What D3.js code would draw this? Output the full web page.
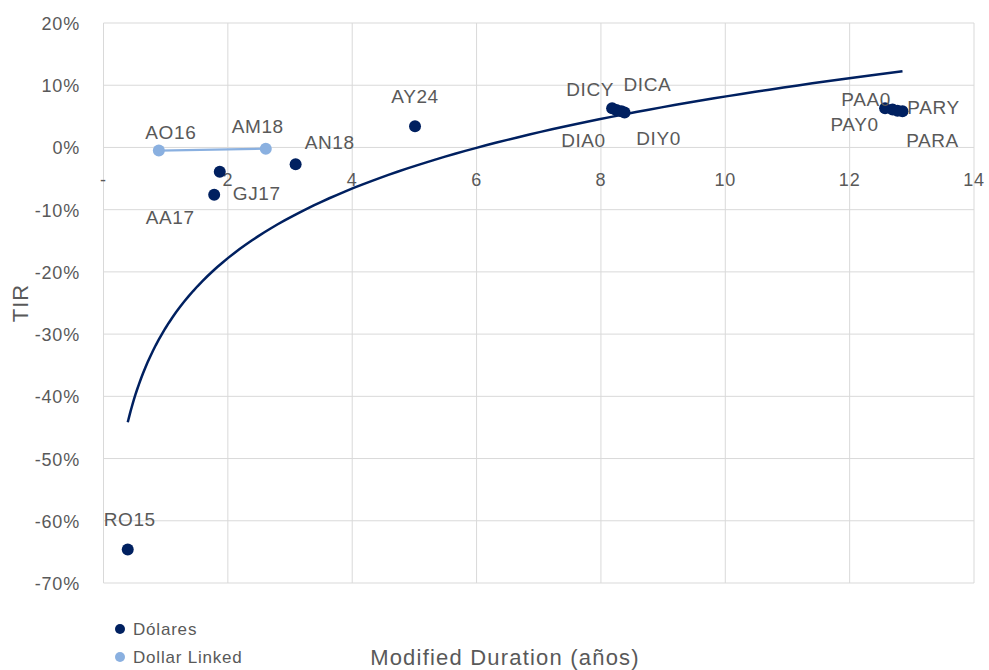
<!DOCTYPE html>
<html>
<head>
<meta charset="utf-8">
<script src="https://cdn.jsdelivr.net/npm/d3@7"></script>
<style>
  body { margin: 0; background: #fff; }
  text { font-family: "Liberation Sans", Arial, sans-serif; fill: #595959; }
</style>
</head>
<body>
<div id="chart"></div>
<script>
(function () {
    // Dólares bonds
    var usdNames = ['RO15', 'AA17', 'GJ17', 'AN18', 'AY24', 'DICY', 'DIA0', 'DICA', 'DIY0', 'PAA0', 'PAY0', 'PARY', 'PARA'];
    var usdDuration = [0.39, 1.78, 1.87, 3.09, 5.01, 8.18, 8.25, 8.33, 8.38, 12.57, 12.69, 12.77, 12.85];
    var usdTir = [-0.646, -0.076, -0.039, -0.027, 0.034, 0.063, 0.060, 0.058, 0.056, 0.063, 0.061, 0.059, 0.058];

    // Dollar Linked bonds
    var dlNames = ['AO16', 'AM18'];
    var dlDuration = [0.89, 2.61];
    var dlTir = [-0.005, -0.002];

    var xTicks = [0, 2, 4, 6, 8, 10, 12, 14];
    var yTicks = [0.2, 0.1, 0, -0.1, -0.2, -0.3, -0.4, -0.5, -0.6, -0.7];

    // label offsets relative to the point (layout only)
    var labelPos = {
        RO15: [2, -30], AA17: [-44, 22], GJ17: [37, 21], AN18: [34, -22], AY24: [0, -30],
        DICY: [-22, -19], DIA0: [-33, 30], DICA: [26, -27], DIY0: [34, 25],
        PAA0: [-19, -9], PAY0: [-38, 15], PARY: [36, -4], PARA: [30, 29],
        AO16: [12, -19], AM18: [-8, -23]
    };

    var dark = '#002060', light = '#8AB0E0';
    var w = 989, h = 670;
    var x = d3.scaleLinear().domain([0, 14]).range([103.5, 974]);
    var y = d3.scaleLinear().domain([-0.7, 0.2]).range([583, 23]);

    var svg = d3.select('#chart').append('svg')
        .attr('width', w)
        .attr('height', h);

    // gridlines
    svg.append('g').selectAll('line')
        .data(yTicks).enter().append('line')
            .attr('x1', x(0)).attr('x2', x(14))
            .attr('y1', function (d) { return y(d); })
            .attr('y2', function (d) { return y(d); })
            .style('stroke', '#d9d9d9');
    svg.append('g').selectAll('line')
        .data(xTicks).enter().append('line')
            .attr('x1', function (d) { return x(d); })
            .attr('x2', function (d) { return x(d); })
            .attr('y1', y(0.2)).attr('y2', y(-0.7))
            .style('stroke', '#d9d9d9');

    // y tick labels
    svg.append('g').selectAll('text')
        .data(yTicks).enter().append('text')
            .attr('x', 80)
            .attr('y', function (d) { return y(d) + 7; })
            .attr('text-anchor', 'end')
            .style('font-size', '18px')
            .style('letter-spacing', '0.8px')
            .text(function (d) { return Math.round(d * 100) + '%'; });

    // x tick labels (sit below the 0% line)
    svg.append('g').selectAll('text')
        .data(xTicks).enter().append('text')
            .attr('x', function (d) { return x(d); })
            .attr('y', y(-0.05) + 7)
            .attr('text-anchor', 'middle')
            .style('font-size', '18px')
            .style('letter-spacing', '0.8px')
            .text(function (d) { return d === 0 ? '-' : d; });

    // logarithmic trendline fitted to Dólares
    var lx = usdDuration.map(Math.log);
    var mx = d3.mean(lx), my = d3.mean(usdTir);
    var sxy = d3.sum(lx, function (v, i) { return (v - mx) * (usdTir[i] - my); });
    var sxx = d3.sum(lx, function (v) { return (v - mx) * (v - mx); });
    var b = sxy / sxx, a = my - b * mx;
    var x0 = d3.min(usdDuration), x1 = d3.max(usdDuration);
    var trend = d3.range(0, 101).map(function (i) {
        var xv = x0 + (x1 - x0) * Math.pow(i / 100, 2);
        return [xv, a + b * Math.log(xv)];
    });
    svg.append('path')
        .datum(trend)
        .attr('d', d3.line()
            .x(function (d) { return x(d[0]); })
            .y(function (d) { return y(d[1]); }))
        .style('fill', 'none')
        .style('stroke', dark)
        .style('stroke-width', 2.5);

    // dollar linked line
    svg.append('path')
        .datum(dlDuration)
        .attr('d', d3.line()
            .x(function (d) { return x(d); })
            .y(function (d, i) { return y(dlTir[i]); }))
        .style('fill', 'none')
        .style('stroke', light)
        .style('stroke-width', 2.2);

    function drawPoints(names, xs, ys, color) {
        svg.append('g').selectAll('circle')
            .data(names).enter().append('circle')
                .attr('cx', function (d, i) { return x(xs[i]); })
                .attr('cy', function (d, i) { return y(ys[i]); })
                .attr('r', 6)
                .style('fill', color);
        svg.append('g').selectAll('text')
            .data(names).enter().append('text')
                .attr('x', function (d, i) { return x(xs[i]) + labelPos[d][0]; })
                .attr('y', function (d, i) { return y(ys[i]) + labelPos[d][1] + 7; })
                .attr('text-anchor', 'middle')
                .style('font-size', '19px')
                .style('letter-spacing', '0.6px')
                .text(function (d) { return d; });
    }
    drawPoints(usdNames, usdDuration, usdTir, dark);
    drawPoints(dlNames, dlDuration, dlTir, light);

    // axis titles
    svg.append('text')
        .attr('x', 505).attr('y', 665)
        .attr('text-anchor', 'middle')
        .style('font-size', '22px')
        .style('letter-spacing', '1.2px')
        .text('Modified Duration (años)');
    svg.append('text')
        .attr('transform', 'translate(28,' + 303 + ') rotate(-90)')
        .attr('text-anchor', 'middle')
        .style('font-size', '22px')
        .style('letter-spacing', '1px')
        .text('TIR');

    // legend
    var legend = [['Dólares', dark], ['Dollar Linked', light]];
    var lg = svg.append('g').selectAll('g')
        .data(legend).enter().append('g')
            .attr('transform', function (d, i) { return 'translate(120,' + (629 + i * 28) + ')'; });
    lg.append('circle').attr('r', 5).style('fill', function (d) { return d[1]; });
    lg.append('text').attr('x', 13).attr('y', 6)
        .style('font-size', '17px')
        .style('letter-spacing', '0.8px')
        .text(function (d) { return d[0]; });
})();
</script>
</body>
</html>
